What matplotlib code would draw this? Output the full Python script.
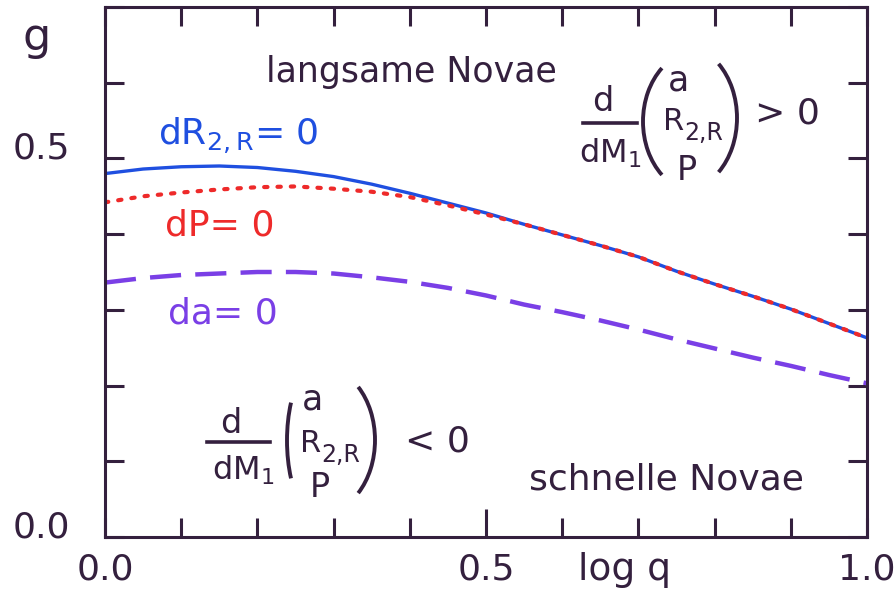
import matplotlib
matplotlib.use('Agg')
import matplotlib.pyplot as plt
from matplotlib.patches import Arc
from matplotlib.lines import Line2D

plt.rcParams['font.family'] = ['DejaVu Sans']
plt.rcParams['mathtext.default'] = 'regular'

# values
log_q = [0.0, 0.05, 0.1, 0.15, 0.2, 0.25, 0.3, 0.35, 0.4, 0.45, 0.5,
         0.55, 0.6, 0.65, 0.7, 0.75, 0.8, 0.85, 0.9, 0.95, 1.0]
g_dR = [0.480, 0.486, 0.489, 0.490, 0.488, 0.483, 0.476, 0.466, 0.454, 0.441, 0.428,
        0.413, 0.399, 0.385, 0.370, 0.351, 0.334, 0.318, 0.301, 0.282, 0.263]
g_dP = [0.442, 0.450, 0.455, 0.459, 0.462, 0.463, 0.460, 0.456, 0.449, 0.438, 0.426,
        0.413, 0.399, 0.385, 0.370, 0.351, 0.334, 0.318, 0.301, 0.282, 0.263]
g_da = [0.336, 0.342, 0.346, 0.348, 0.350, 0.350, 0.348, 0.343, 0.337, 0.329, 0.319,
        0.307, 0.297, 0.286, 0.274, 0.261, 0.249, 0.237, 0.226, 0.214, 0.203]

ink = '#34203e'
blue = '#1f4fe0'
red = '#ee2a2a'
purple = '#7a3fe6'

W, H = 895, 600
fig = plt.figure(figsize=(W / 100, H / 100), dpi=100)
ax = fig.add_axes([105 / W, 1 - 537 / H, 762 / W, 530 / H])
px = fig.dpi_scale_trans  # 1 unit = 100 pixels


def P(x, y):
    return x / 100, (H - y) / 100


def txt(x, y, s, size, color=ink, ha='left', va='baseline'):
    fig.text(*P(x, y), s, fontsize=size, color=color, ha=ha, va=va, transform=px)


ax.plot(log_q, g_da, color=purple, lw=3.2, dashes=(7.0, 3.2), solid_capstyle='round')
ax.plot(log_q, g_dR, color=blue, lw=2.4)
ax.plot(log_q, g_dP, color=red, lw=3.0, dashes=(0.8, 2.4), dash_capstyle='round')

ax.set_xlim(0, 1.0)
ax.set_ylim(0, 0.70)

ax.set_xticks([i / 10 for i in range(11)])
ax.set_xticklabels(['0.0', '', '', '', '', '0.5', '', '', '', '', '1.0'])
ax.set_yticks([i / 10 for i in range(8)])
ax.set_yticklabels(['0.0', '', '', '', '', '0.5', '', ''])

ax.tick_params(direction='in', length=14, width=2.2, color=ink, labelcolor=ink,
               labelsize=26, top=True, right=True)
ax.tick_params(axis='x', pad=11)
ax.tick_params(axis='y', pad=25)
ax.xaxis.get_major_ticks()[5].tick1line.set_markersize(20)
for lab in ax.get_yticklabels():
    lab.set_va('baseline')
ax.get_xticklabels()[-1].set_x(0.995)
for s in ax.spines.values():
    s.set_linewidth(2.2)
    s.set_color(ink)

ax.set_xlabel('log q', fontsize=27, color=ink, va='baseline')
ax.xaxis.set_label_coords(0.682, -43 / 530)

txt(37, 50, 'g', 32, ha='center')

# curve labels
txt(158, 145, r'dR$_{2,R}$= 0', 26, color=blue)
txt(165, 236, 'dP= 0', 26, color=red)
txt(168, 324, 'da= 0', 26, color=purple)

txt(411, 82, 'langsame Novae', 25, ha='center')
txt(666, 490, 'schnelle Novae', 26, ha='center')


def paren(xe, xb, ytop, ybot, left):
    # hand drawn bracket: end points at xe, bulge out to xb
    s = (ybot - ytop) / 2
    b = abs(xe - xb)
    ry = s / 0.819
    rx = b / 0.426
    cx = xe + rx * 0.574 if left else xe - rx * 0.574
    t1, t2 = (125, 235) if left else (-55, 55)
    fig.add_artist(Arc(P(cx, (ytop + ybot) / 2), 2 * rx / 100, 2 * ry / 100,
                       theta1=t1, theta2=t2, color=ink, lw=2.8, transform=px))


def derivative(d, bar, dm, lp, rp, a, r, p, rel):
    txt(d[0], d[1], 'd', 24, ha='center')
    x0, x1, yb = bar
    fig.add_artist(Line2D([x0 / 100, x1 / 100], [(H - yb) / 100] * 2,
                          color=ink, lw=2.6, transform=px))
    txt(dm[0], dm[1], r'dM$_1$', 23, ha='center')
    paren(*lp, left=True)
    paren(*rp, left=False)
    txt(a[0], a[1], 'a', 25, ha='center')
    txt(r[0], r[1], 'R', 22)
    txt(r[0] + 21, r[1] + 10, '2,R', 17)
    txt(p[0], p[1], 'P', 24, ha='center')
    txt(rel[0], rel[1], rel[2], 26)


derivative((603, 111), (583, 637, 123), (610, 163),
           (667, 643, 63, 180), (713, 737, 58, 178),
           (678, 90), (663, 130), (687, 180), (755, 123, '> 0'))
derivative((231, 433), (207, 270, 442), (243, 480),
           (300, 287, 378, 503), (352, 375, 380, 500),
           (313, 410), (300, 452), (320, 497), (405, 452, '< 0'))

fig.savefig('out.png', dpi=100, facecolor='white')
